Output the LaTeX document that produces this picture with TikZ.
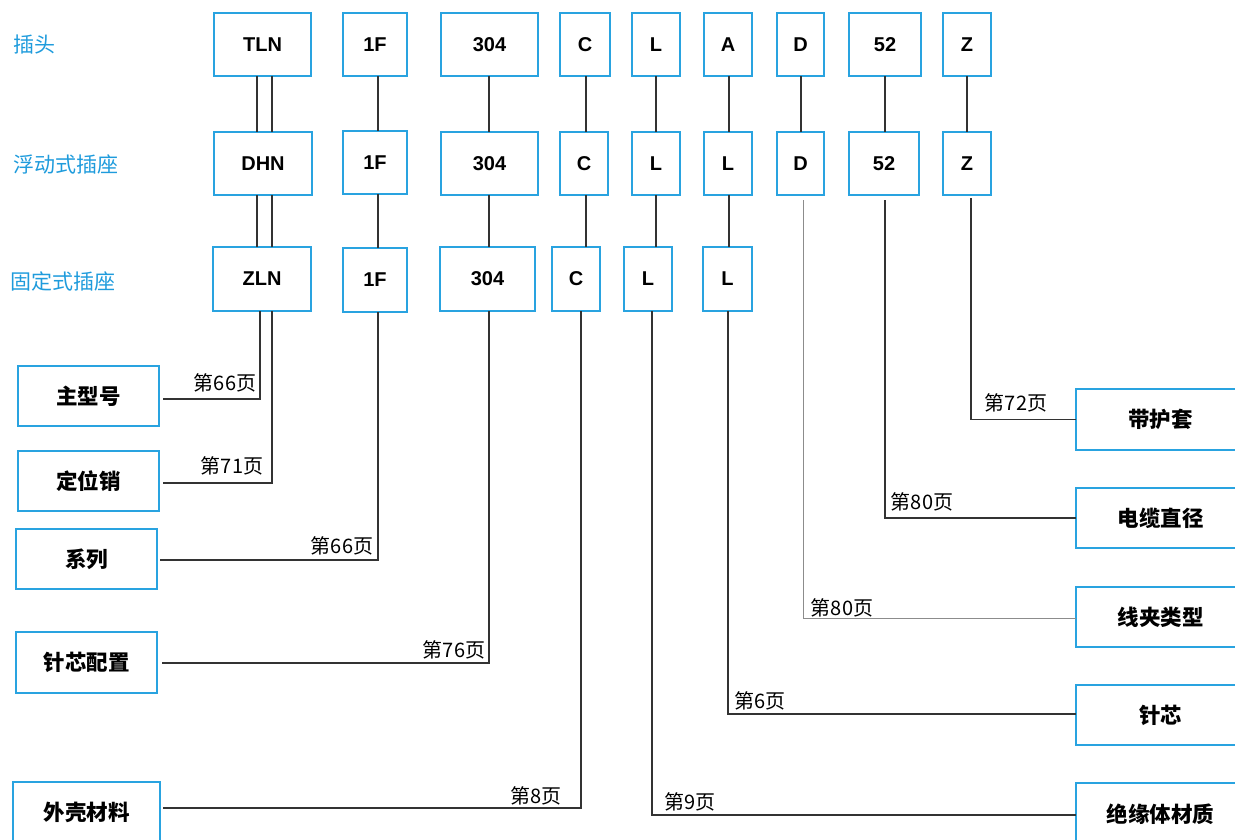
\documentclass[tikz,border=0pt]{standalone}
\usepackage{fontspec}
\setmainfont{Liberation Sans}
\newfontfamily\cjk{Noto Sans CJK SC}
\definecolor{bblue}{HTML}{29A3E0}
\definecolor{tblue}{HTML}{1E9BDC}
\definecolor{lk}{HTML}{333333}
\definecolor{lg}{HTML}{8C8C8C}
\newcommand\mybox[7]{\node[#1, minimum width={#5-#3}, minimum height={#6-#4}] (#2) at ({(#3+#5)/2},{(#4+#6)/2}) {#7};}
\begin{document}
\begin{tikzpicture}[x=1pt,y=-1pt,
 box/.style={draw=bblue, line width=1.3pt, inner sep=0pt, outer sep=0pt, fill=white, font=\fontsize{20}{24}\selectfont\bfseries},
 cbox/.style={box, font=\fontsize{21.5}{25}\selectfont\cjk\bfseries},
 link/.style={draw=lk, line width=1.2pt},
 glink/.style={draw=lg, line width=1pt},
 pg/.style={font=\fontsize{20}{24}\selectfont\cjk, inner sep=0pt},
 rowlbl/.style={text=tblue, font=\fontsize{21}{25}\selectfont\cjk, inner sep=0pt, anchor=west}]
\useasboundingbox (0,0) rectangle (1235,839);
% column coordinates
\foreach \c in {257,260,272,378,489,581,586,652,656,728,729,801,803,885,967,971}{\coordinate (k\c) at (\c,0);}
% row labels
\node[rowlbl] (r1) at (13,45) {插头};
\node[rowlbl] (r2) at (13,164) {浮动式插座};
\node[rowlbl] (r3) at (10,281) {固定式插座};
% row 1
\mybox{box}{tln}{214}{13}{311}{76}{TLN}
\mybox{box}{fa}{343}{13}{407}{76}{1F}
\mybox{box}{sa}{441}{13}{538}{76}{304}
\mybox{box}{ca}{560}{13}{610}{76}{C}
\mybox{box}{la}{632}{13}{680}{76}{L}
\mybox{box}{aa}{704}{13}{752}{76}{A}
\mybox{box}{da}{777}{13}{824}{76}{D}
\mybox{box}{na}{849}{13}{921}{76}{52}
\mybox{box}{za}{943}{13}{991}{76}{Z}
% row 2
\mybox{box}{dhn}{214}{132}{312}{195}{DHN}
\mybox{box}{fb}{343}{131}{407}{194}{1F}
\mybox{box}{sb}{441}{132}{538}{195}{304}
\mybox{box}{cb}{560}{132}{608}{195}{C}
\mybox{box}{lb}{632}{132}{680}{195}{L}
\mybox{box}{ab}{704}{132}{752}{195}{L}
\mybox{box}{db}{777}{132}{824}{195}{D}
\mybox{box}{nb}{849}{132}{919}{195}{52}
\mybox{box}{zb}{943}{132}{991}{195}{Z}
% row 3
\mybox{box}{zln}{213}{247}{311}{311}{ZLN}
\mybox{box}{fc}{343}{248}{407}{312}{1F}
\mybox{box}{sc}{440}{247}{535}{311}{304}
\mybox{box}{cc}{552}{247}{600}{311}{C}
\mybox{box}{lc}{624}{247}{672}{311}{L}
\mybox{box}{ac}{703}{247}{752}{311}{L}
% left boxes
\mybox{cbox}{zhu}{18}{366}{159}{426}{主型号}
\mybox{cbox}{dwx}{18}{451}{159}{511}{定位销}
\mybox{cbox}{xl}{16}{529}{157}{589}{系列}
\mybox{cbox}{zxpz}{16}{632}{157}{693}{针芯配置}
\mybox{cbox}{wk}{13}{782}{160}{843}{外壳材料}
% right boxes
\mybox{cbox}{dht}{1076}{389}{1245}{450}{带护套}
\mybox{cbox}{dl}{1076}{488}{1245}{548}{电缆直径}
\mybox{cbox}{xj}{1076}{587}{1245}{647}{线夹类型}
\mybox{cbox}{zx}{1076}{685}{1245}{745}{针芯}
\mybox{cbox}{jy}{1076}{783}{1245}{845}{绝缘体材质}
% vertical links row1-row2
\draw[link] (tln.south -| k257) -- (dhn.north -| k257);
\draw[link] (tln.south -| k272) -- (dhn.north -| k272);
\draw[link] (fa.south -| k378) -- (fb.north -| k378);
\draw[link] (sa.south -| k489) -- (sb.north -| k489);
\draw[link] (ca.south -| k586) -- (cb.north -| k586);
\draw[link] (la.south -| k656) -- (lb.north -| k656);
\draw[link] (aa.south -| k729) -- (ab.north -| k729);
\draw[link] (da.south -| k801) -- (db.north -| k801);
\draw[link] (na.south -| k885) -- (nb.north -| k885);
\draw[link] (za.south -| k967) -- (zb.north -| k967);
% row2-row3
\draw[link] (dhn.south -| k257) -- (zln.north -| k257);
\draw[link] (dhn.south -| k272) -- (zln.north -| k272);
\draw[link] (fb.south -| k378) -- (fc.north -| k378);
\draw[link] (sb.south -| k489) -- (sc.north -| k489);
\draw[link] (cb.south -| k586) -- (cc.north -| k586);
\draw[link] (lb.south -| k656) -- (lc.north -| k656);
\draw[link] (ab.south -| k729) -- (ac.north -| k729);
% elbows to left boxes
\draw[link] (zln.south -| k260) |- ([yshift=-3pt,xshift=4pt]zhu.east);
\draw[link] (zln.south -| k272) |- ([yshift=-2pt,xshift=4pt]dwx.east);
\draw[link] (fc.south -| k378) |- ([yshift=-1pt,xshift=3pt]xl.east);
\draw[link] (sc.south -| k489) |- ([yshift=-0.5pt,xshift=5pt]zxpz.east);
\draw[link] (cc.south -| k581) |- ([yshift=4.5pt,xshift=3pt]wk.east);
% elbows to right boxes
\draw[link] (lc.south -| k652) |- ([yshift=-1pt]jy.west);
\draw[link] (ac.south -| k728) |- ([yshift=1pt]zx.west);
\draw[glink] ([yshift=-5pt]db.south -| k803) |- ([yshift=-1pt]xj.west);
\draw[link] ([yshift=-5pt]nb.south -| k885) |- (dl.west);
\draw[link] ([yshift=-3pt]zb.south -| k971) |- (dht.west);
% page labels
\node[pg] (p1) at (225,383) {第66页};
\node[pg] (p2) at (232,466) {第71页};
\node[pg] (p3) at (342,546) {第66页};
\node[pg] (p4) at (454,650) {第76页};
\node[pg] (p5) at (536,796) {第8页};
\node[pg] (p6) at (690,802) {第9页};
\node[pg] (p7) at (760,701) {第6页};
\node[pg] (p8) at (842,608) {第80页};
\node[pg] (p9) at (922,502) {第80页};
\node[pg] (p10) at (1016,403) {第72页};
\end{tikzpicture}
\end{document}
